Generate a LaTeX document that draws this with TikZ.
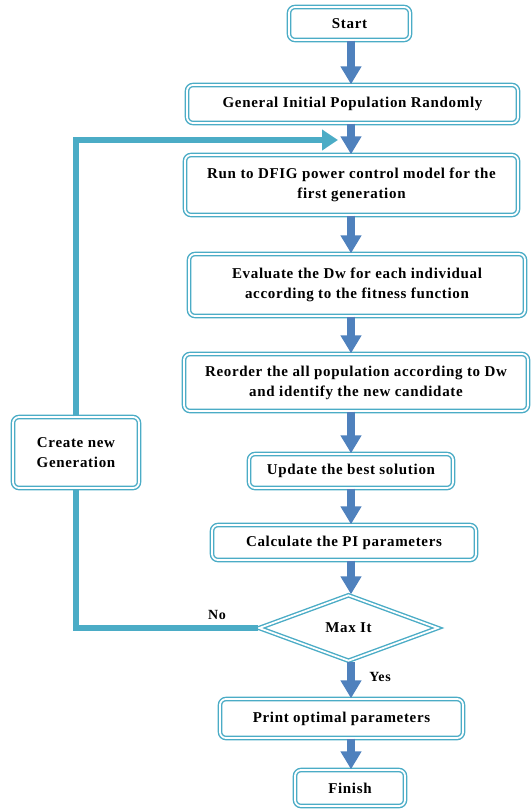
\documentclass[tikz,border=0pt]{standalone}
\usepackage{fontspec}
\setmainfont{Liberation Serif}[LetterSpace=4.5]
\usetikzlibrary{arrows.meta,shapes.geometric}
\definecolor{bord}{HTML}{4BACC6}
\definecolor{arr}{HTML}{4F81BD}
\begin{document}
\begin{tikzpicture}[x=1pt,y=-1pt,
  box/.style={draw=bord, line width=1.4pt, double=white, double distance=1.8pt,
    rounded corners=6pt, align=center, inner sep=0pt, fill=white,
    font=\fontsize{15}{20}\selectfont\bfseries},
  dec/.style={box, diamond, rounded corners=0pt},
  flow/.style={draw=arr, line width=8pt, -{Triangle[width=20pt,length=18pt]}},
  loopline/.style={draw=bord, line width=6pt},
  looparrow/.style={loopline, -{Triangle[width=20pt,length=16pt]}},
  lbl/.style={font=\fontsize{14}{16}\selectfont\bfseries, inner sep=0pt}
]
\useasboundingbox (0,0) rectangle (532,811);
\coordinate (axis) at (351,0);

\node[box, minimum width=121pt, minimum height=33pt] (start) at (349.5,23.5) {Start};
\node[box, minimum width=331pt, minimum height=38pt] (gen) at (352.5,104) {General Initial Population Randomly};
\node[box, minimum width=333pt, minimum height=60pt] (run) at (351.5,185) {Run to DFIG power control model for the\\first generation};
\node[box, minimum width=336pt, minimum height=62pt] (eval) at (357,285) {Evaluate the Dw for each individual\\according to the fitness function};
\node[box, minimum width=344pt, minimum height=57pt] (reord) at (356,382.5) {Reorder the all population according to Dw\\and identify the new candidate};
\node[box, minimum width=204pt, minimum height=34pt] (upd) at (351,471) {Update the best solution};
\node[box, minimum width=264pt, minimum height=35pt] (calc) at (344,542.5) {Calculate the PI parameters};
\node[dec, minimum width=179pt, minimum height=66pt] (maxit) at (348.5,628) {Max It};
\node[box, minimum width=243pt, minimum height=39pt] (print) at (341.5,718.5) {Print optimal parameters};
\node[box, minimum width=110pt, minimum height=36pt] (fin) at (350,788) {Finish};
\node[box, minimum width=126pt, minimum height=71pt] (create) at (76,452.5) {Create new\\Generation};

\coordinate (lt) at (338,140);
\draw[loopline] (maxit.west) -| (create.south);
\draw[looparrow] (create.north) |- (lt);

\draw[flow] (start.south -| axis) -- (gen.north -| axis);
\draw[flow] (gen.south -| axis) -- (run.north -| axis);
\draw[flow] (run.south -| axis) -- (eval.north -| axis);
\draw[flow] (eval.south -| axis) -- (reord.north -| axis);
\draw[flow] (reord.south -| axis) -- (upd.north -| axis);
\draw[flow] (upd.south -| axis) -- (calc.north -| axis);
\draw[flow] (calc.south -| axis) -- (maxit.north -| axis);
\draw[flow] (maxit.south -| axis) -- (print.north -| axis);
\draw[flow] (print.south -| axis) -- (fin.north -| axis);

\node[lbl] (no) at (217,615) {No};
\node[lbl] (yes) at (380,677) {Yes};
\end{tikzpicture}
\end{document}
